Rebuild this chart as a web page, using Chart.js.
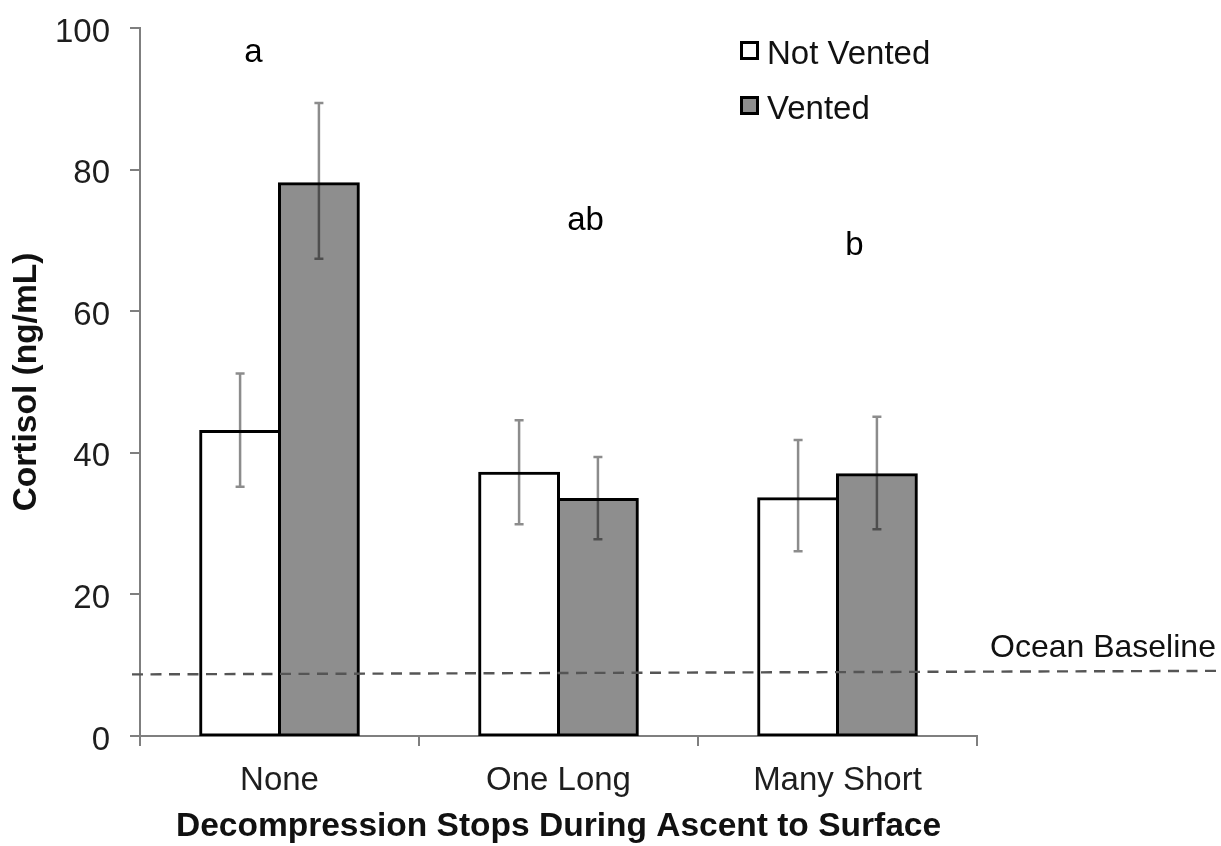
<!DOCTYPE html>
<html><head><meta charset="utf-8">
<script src="https://cdn.jsdelivr.net/npm/chart.js@4/dist/chart.umd.min.js"></script>
<style>html,body{margin:0;padding:0;background:#fff}#wrap{width:1221px;height:846px}</style>
</head><body><div id="wrap"><canvas id="c" width="1221" height="846"></canvas></div>
<script>
// ---- data ----
const categories = ['None', 'One Long', 'Many Short'];
const seriesNames = ['Not Vented', 'Vented'];
const notVented = [43.0, 37.1, 33.5];
const vented = [78.0, 33.4, 36.9];
const notVentedLow = [35.2, 29.9, 26.1];
const notVentedHigh = [51.2, 44.6, 41.8];
const ventedLow = [67.4, 27.8, 29.2];
const ventedHigh = [89.4, 39.4, 45.1];
const yTicks = [0, 20, 40, 60, 80, 100];
const baseline = [8.7, 9.2];          // dashed "Ocean Baseline" (left end, right end)
const baselineLabel = 'Ocean Baseline';
const groupLetters = ['a', 'ab', 'b'];
const letterValues = [95.2, 71.5, 68.0];
const xTitle = 'Decompression Stops During Ascent to Surface';
const yTitle = 'Cortisol (ng/mL)';

const FONT = '"Liberation Sans", Arial, Helvetica, sans-serif';
const AXIS = '#7f7f7f';
const TXT = '#1e1e1e';
const GRAY = '#8e8e8e';
const FS = 33;

const letterOffsets = [-26, 27, 17];

const overlay = {
  id: 'overlay',
  afterDatasetsDraw(chart) {
    const {ctx, chartArea, scales: {x, y}} = chart;
    // dashed baseline
    ctx.save();
    ctx.strokeStyle = '#555';
    ctx.lineWidth = 2.4;
    ctx.setLineDash([11, 7.5]);
    ctx.beginPath();
    ctx.moveTo(chartArea.left - 8, y.getPixelForValue(baseline[0]));
    ctx.lineTo(chart.width, y.getPixelForValue(baseline[1]));
    ctx.stroke();
    ctx.restore();
    // error bars
    [[0, notVentedLow, notVentedHigh], [1, ventedLow, ventedHigh]].forEach(([di, lo, hi]) => {
      const meta = chart.getDatasetMeta(di);
      meta.data.forEach((bar, i) => {
        const cx = bar.x;
        const yl = y.getPixelForValue(lo[i]);
        const yh = y.getPixelForValue(hi[i]);
        ctx.save();
        ctx.strokeStyle = 'rgba(0,0,0,0.45)';
        ctx.lineWidth = 2.5;
        ctx.beginPath();
        ctx.moveTo(cx, yl); ctx.lineTo(cx, yh);
        ctx.moveTo(cx - 4.5, yl); ctx.lineTo(cx + 4.5, yl);
        ctx.moveTo(cx - 4.5, yh); ctx.lineTo(cx + 4.5, yh);
        ctx.stroke();
        ctx.restore();
      });
    });
  },
  afterDraw(chart) {
    const {ctx, chartArea, scales: {x, y}} = chart;
    ctx.save();
    ctx.fillStyle = '#000';
    ctx.font = FS + 'px ' + FONT;
    ctx.textBaseline = 'alphabetic';
    // group letters
    ctx.textAlign = 'center';
    groupLetters.forEach((t, i) => {
      ctx.fillText(t, x.getPixelForValue(i) + letterOffsets[i], y.getPixelForValue(letterValues[i]));
    });
    // baseline label
    ctx.textAlign = 'left';
    ctx.fillStyle = '#111';
    ctx.font = '32px ' + FONT;
    ctx.fillText(baselineLabel, 990, y.getPixelForValue(baseline[1]) - 13.5);
    ctx.font = FS + 'px ' + FONT;
    // legend
    const fills = ['#ffffff', GRAY];
    const rows = [41, 96];
    seriesNames.forEach((n, i) => {
      ctx.fillStyle = fills[i];
      ctx.fillRect(740, rows[i], 19, 19);
      ctx.strokeStyle = '#000';
      ctx.lineWidth = 3;
      ctx.strokeRect(741.5, rows[i] + 1.5, 16, 16);
      ctx.fillStyle = '#111';
      ctx.fillText(n, 767, rows[i] + 23);
    });
    ctx.restore();
  }
};

new Chart(document.getElementById('c'), {
  type: 'bar',
  data: {
    labels: categories,
    datasets: [
      {label: seriesNames[0], data: notVented, backgroundColor: '#ffffff', borderColor: '#000', borderWidth: 3,
       borderSkipped: false, inflateAmount: 1.5, categoryPercentage: 0.565, barPercentage: 1.0},
      {label: seriesNames[1], data: vented, backgroundColor: GRAY, borderColor: '#000', borderWidth: 3,
       borderSkipped: false, inflateAmount: 1.5, categoryPercentage: 0.565, barPercentage: 1.0}
    ]
  },
  options: {
    responsive: false,
    animation: false,
    devicePixelRatio: 1,
    layout: {padding: {left: 0, right: 244, top: 28, bottom: 0}},
    plugins: {legend: {display: false}, tooltip: {enabled: false}},
    scales: {
      x: {
        grid: {display: true, drawOnChartArea: false, drawTicks: true, tickLength: 10, color: AXIS, lineWidth: 2, offset: true},
        border: {display: true, color: AXIS, width: 2},
        ticks: {font: {family: FONT, size: FS}, color: TXT, padding: 15, maxRotation: 0},
        title: {display: true, text: xTitle, color: '#111', font: {family: FONT, size: 33.5, weight: 'bold', lineHeight: 1}, padding: {top: 0, bottom: 2}},
        afterFit(s) { s.height = 110; s.paddingLeft = 0; s.paddingRight = 0; }
      },
      y: {
        min: 0, max: 100,
        afterBuildTicks(s) { s.ticks = yTicks.map(v => ({value: v})); },
        grid: {display: true, drawOnChartArea: false, drawTicks: true, tickLength: 10, color: AXIS, lineWidth: 2},
        border: {display: true, color: AXIS, width: 2},
        ticks: {font: {family: FONT, size: FS}, color: TXT, padding: 20, labelOffset: 4.5},
        title: {display: true, text: yTitle, color: '#111', font: {family: FONT, size: 33.5, weight: 'bold', lineHeight: 1}, padding: {top: 10, bottom: 0}},
        afterFit(s) { s.width = 140; s.paddingTop = 0; s.paddingBottom = 0; }
      }
    }
  },
  plugins: [overlay]
});
</script>
</body></html>
